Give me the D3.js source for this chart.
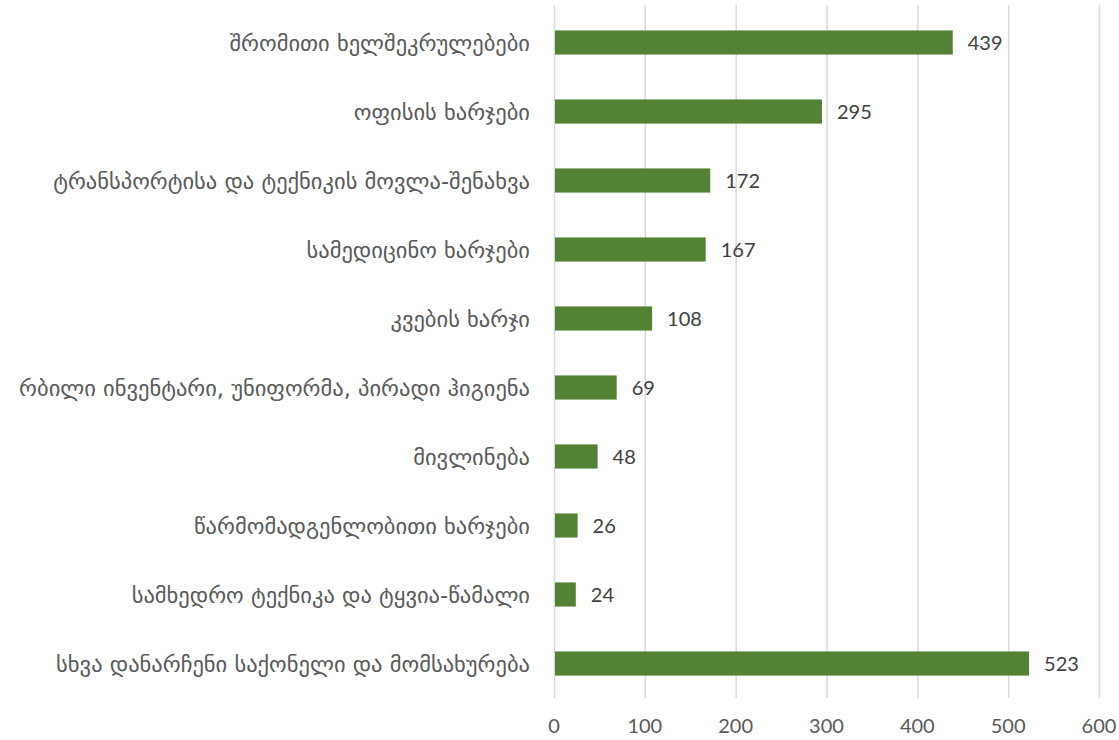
<!DOCTYPE html>
<html><head><meta charset="utf-8">
<script src="https://cdn.jsdelivr.net/npm/d3@7"></script>
<style>body{margin:0;background:#fff}</style>
</head><body>
<svg id="c" width="1119" height="740"></svg>
<script>
const categories = [
  "შრომითი ხელშეკრულებები",
  "ოფისის ხარჯები",
  "ტრანსპორტისა და ტექნიკის მოვლა-შენახვა",
  "სამედიცინო ხარჯები",
  "კვების ხარჯი",
  "რბილი ინვენტარი, უნიფორმა, პირადი ჰიგიენა",
  "მივლინება",
  "წარმომადგენლობითი ხარჯები",
  "სამხედრო ტექნიკა და ტყვია-წამალი",
  "სხვა დანარჩენი საქონელი და მომსახურება"
];
const values = [439, 295, 172, 167, 108, 69, 48, 26, 24, 523];
const ticks = [0, 100, 200, 300, 400, 500, 600];

(function(){
const svg = d3.select("#c");
const mL = 554, mR = 1099, mT = 8, mB = 698;
const x = d3.scaleLinear().domain([0, 600]).range([mL, mR]);
const y = d3.scaleBand().domain(categories).range([mT, mB]).paddingInner(0.65).paddingOuter(0.325);

svg.append("g").selectAll("line").data(ticks).join("line")
  .attr("x1", d => x(d) + 0.5).attr("x2", d => x(d) + 0.5)
  .attr("y1", 5).attr("y2", mB)
  .attr("stroke", "#d9d9d9").attr("stroke-width", 1.5);

svg.append("g").selectAll("rect").data(values).join("rect")
  .attr("x", x(0) + 1)
  .attr("y", (d, i) => y(categories[i]))
  .attr("width", d => x(d) - x(0) - 1)
  .attr("height", y.bandwidth())
  .attr("fill", "#548235");

svg.append("g").selectAll("text").data(values).join("text")
  .attr("x", d => x(d) + 15)
  .attr("y", (d, i) => y(categories[i]) + y.bandwidth() / 2)
  .attr("dy", "0.36em")
  .attr("font-family", "Lato, 'Open Sans', sans-serif")
  .attr("font-size", 20)
  .attr("fill", "#404040")
  .text(d => d);

svg.append("g").selectAll("text").data(categories).join("text")
  .attr("x", 530)
  .attr("y", d => y(d) + y.bandwidth() / 2)
  .attr("dy", "0.36em")
  .attr("text-anchor", "end")
  .attr("font-family", "'DejaVu Sans', sans-serif")
  .attr("font-size", 22.5)
  .attr("fill", "#595959")
  .text(d => d);

svg.append("g").selectAll("text").data(ticks).join("text")
  .attr("x", d => x(d))
  .attr("y", 726)
  .attr("dy", "0.36em")
  .attr("text-anchor", "middle")
  .attr("font-family", "Lato, 'Open Sans', sans-serif")
  .attr("font-size", 20)
  .attr("fill", "#595959")
  .text(d => d);
})();
</script>
</body></html>
